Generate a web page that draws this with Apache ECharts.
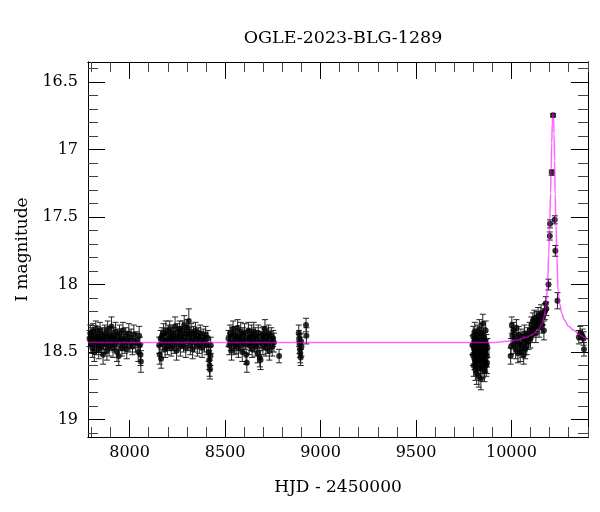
<!DOCTYPE html>
<html>
<head>
<meta charset="utf-8">
<script src="https://cdn.jsdelivr.net/npm/echarts@6/dist/echarts.min.js"></script>
<style>html,body{margin:0;padding:0;background:#fff}#c{width:600px;height:512px}</style>
</head>
<body>
<div id="c"></div>
<script>
// ---- data ----
const titleText = 'OGLE-2023-BLG-1289';
const xName = 'HJD - 2450000';
const yName = 'I magnitude';
const xMajorTicks = [8000, 8500, 9000, 9500, 10000];
const yMajorTicks = [16.5, 17, 17.5, 18, 18.5, 19];

const obsHJD = [
 7790,7794,7797,7801,7805,7808,7812,7815,7819,7823,7826,7830,7834,7838,7841,7845,7849,7853,7857,7861,7865,7869,7873,7877,7881,7885,7889,7893,7897,7901,7905,7909,7913,7917,7921,7926,7930,7934,7938,7943,7947,7951,7956,7960,7965,7970,7975,7980,7985,7990,7996,8002,8008,8015,8022,8030,8038,8045,8050,8054,8057,8059,
 8155,8158,8162,8165,8170,8174,8178,8182,8186,8190,8194,8198,8202,8206,8210,8214,8218,8222,8226,8230,8234,8238,8242,8246,8250,8254,8258,8262,8266,8270,8274,8278,8282,8286,8290,8294,8298,8302,8306,8310,8314,8318,8322,8326,8330,8335,8340,8345,8350,8355,8360,8365,8370,8375,8380,8386,8392,8398,8404,8410,8414,8417,8419,8421,8423,8425,
 8518,8522,8526,8530,8534,8538,8542,8546,8550,8554,8558,8562,8566,8570,8574,8578,8582,8586,8590,8594,8598,8602,8606,8610,8614,8618,8622,8626,8630,8634,8638,8642,8646,8650,8654,8658,8662,8666,8670,8674,8678,8682,8686,8690,8694,8698,8702,8706,8709,8714,8718,8722,8727,8732,8737,8742,8747,8752,8756,8783,
 8886,8888,8890,8892,8894,8896,8898,8900,8924,8926,
 9796,9798,9800,9802,9803,9805,9806,9808,9809,9811,9812,9814,9815,9817,9818,9820,9821,9823,9824,9826,9827,9829,9830,9832,9833,9835,9836,9838,9839,9840,9841,9842,9844,9845,9847,9848,9850,9851,9853,9854,9856,9857,9859,9860,9862,9863,9865,9866,9868,9869,9871,9872,9874,
 9996,9998,10002,10005,10010,10014,10018,10022,10026,10030,10034,10038,10042,10046,10050,10055,10060,10064,10068,10072,10076,10080,10085,10090,10095,10100,10104,10108,10112,10116,10120,10124,10128,10132,10136,10140,10145,10150,10155,10160,10165,10170,10175,10180,10183,10194,10201,10202,10211,10218,10227,10230,10241,
 10353,10360,10372,10378,10380
];
const obsMag = [
 18.40,18.36,18.44,18.38,18.47,18.35,18.42,18.50,18.39,18.33,18.45,18.41,18.37,18.48,18.43,18.34,18.40,18.46,18.38,18.52,18.42,18.36,18.44,18.39,18.49,18.33,18.41,18.46,18.37,18.43,18.31,18.40,18.47,18.38,18.44,18.35,18.42,18.50,18.39,18.53,18.36,18.43,18.40,18.47,18.34,18.42,18.45,18.38,18.48,18.41,18.36,18.44,18.40,18.46,18.37,18.43,18.41,18.50,18.38,18.45,18.52,18.57,
 18.45,18.52,18.40,18.55,18.38,18.44,18.36,18.42,18.48,18.34,18.41,18.46,18.37,18.43,18.33,18.40,18.47,18.36,18.42,18.38,18.45,18.31,18.40,18.49,18.35,18.43,18.39,18.33,18.46,18.37,18.41,18.34,18.44,18.30,18.39,18.47,18.36,18.32,18.42,18.27,18.38,18.45,18.35,18.41,18.48,18.37,18.43,18.34,18.40,18.46,18.38,18.44,18.36,18.41,18.47,18.39,18.43,18.37,18.45,18.40,18.50,18.56,18.60,18.63,18.53,18.45,
 18.40,18.45,18.36,18.43,18.49,18.38,18.33,18.42,18.46,18.37,18.44,18.40,18.32,18.47,18.39,18.43,18.35,18.41,18.50,18.38,18.44,18.36,18.42,18.52,18.58,18.40,18.34,18.45,18.39,18.43,18.37,18.48,18.41,18.35,18.44,18.38,18.46,18.40,18.51,18.36,18.43,18.54,18.56,18.41,18.38,18.45,18.37,18.42,18.33,18.47,18.39,18.44,18.36,18.49,18.41,18.38,18.46,18.40,18.43,18.53,
 18.36,18.40,18.44,18.48,18.51,18.54,18.42,18.46,18.30,18.38,
 18.45,18.52,18.38,18.60,18.47,18.42,18.55,18.35,18.50,18.63,18.44,18.57,18.40,18.48,18.66,18.53,18.37,18.45,18.59,18.42,18.51,18.68,18.46,18.33,18.56,18.49,18.41,18.62,18.44,18.70,18.54,18.36,18.50,18.58,18.43,18.47,18.29,18.61,18.52,18.39,18.55,18.46,18.64,18.42,18.50,18.57,18.34,18.48,18.60,18.44,18.53,18.58,18.47,
 18.53,18.46,18.30,18.38,18.34,18.44,18.40,18.48,18.32,18.42,18.51,18.37,18.45,18.50,18.39,18.47,18.43,18.52,18.36,18.48,18.41,18.45,18.38,18.42,18.34,18.40,18.30,18.37,18.27,18.33,18.25,18.31,18.36,18.26,18.29,18.23,18.32,18.27,18.21,18.30,18.24,18.34,18.20,18.14,18.18,18.00,17.64,17.55,17.17,16.745,17.52,17.75,18.12,
 18.39,18.36,18.38,18.40,18.48
];
const obsErr = [
 .06,.06,.07,.06,.07,.06,.06,.07,.06,.06,.07,.06,.06,.07,.06,.06,.07,.06,.06,.07,.06,.06,.07,.06,.07,.06,.06,.07,.06,.06,.07,.06,.07,.06,.06,.07,.06,.07,.06,.07,.06,.06,.07,.06,.06,.07,.06,.06,.07,.06,.07,.06,.07,.06,.07,.07,.06,.07,.07,.06,.08,.08,
 .06,.07,.06,.07,.06,.06,.07,.06,.06,.07,.06,.06,.07,.06,.06,.07,.06,.06,.07,.06,.06,.07,.06,.07,.06,.06,.07,.06,.07,.06,.06,.07,.06,.07,.06,.07,.06,.06,.07,.09,.06,.07,.06,.06,.07,.06,.07,.06,.06,.07,.06,.07,.06,.06,.07,.06,.07,.06,.07,.06,.07,.07,.08,.07,.07,.06,
 .06,.07,.06,.06,.07,.06,.06,.07,.06,.06,.07,.06,.06,.07,.06,.06,.07,.06,.07,.06,.06,.07,.06,.07,.07,.06,.06,.07,.06,.06,.07,.06,.06,.07,.06,.06,.07,.06,.07,.06,.06,.07,.07,.06,.06,.07,.06,.06,.07,.06,.06,.07,.06,.07,.06,.06,.07,.06,.07,.05,
 .06,.06,.07,.06,.07,.06,.06,.07,.05,.06,
 .07,.08,.07,.08,.07,.07,.08,.07,.07,.08,.07,.08,.07,.07,.08,.08,.07,.07,.08,.07,.07,.08,.07,.07,.08,.07,.07,.08,.07,.08,.08,.07,.07,.08,.07,.07,.07,.08,.07,.07,.08,.07,.08,.07,.07,.08,.07,.07,.08,.07,.08,.08,.07,
 .06,.06,.06,.06,.06,.07,.06,.07,.06,.06,.07,.06,.06,.07,.06,.07,.06,.07,.06,.07,.06,.07,.06,.06,.06,.07,.06,.06,.06,.06,.06,.06,.07,.06,.06,.06,.07,.06,.06,.06,.06,.07,.06,.05,.05,.04,.03,.03,.02,.012,.03,.04,.06,
 .05,.05,.05,.05,.05
];

const modelHJD = [7782,9900,9980,10031,10080,10110,10145,10160,10171,10178,10183,10189,10195,10201,10205,10208,10211,10214,10217,10220,10223,10226,10229,10233,10238,10244,10252,10263,10276,10300,10328,10355,10381,10401];
const modelMag = [18.43,18.43,18.42,18.41,18.39,18.37,18.33,18.29,18.24,18.18,18.12,18.00,17.78,17.52,17.32,17.15,16.95,16.80,16.73,16.75,16.88,17.08,17.33,17.55,17.78,18.04,18.14,18.21,18.26,18.31,18.34,18.37,18.39,18.41];

// ---- build ----
const X_MIN = 7782, X_MAX = 10401, Y_MIN = 16.35, Y_MAX = 19.13;
const xMinorTicks = [], yMinorTicks = [];
for (let v = 7800; v <= 10400; v += 100) if (xMajorTicks.indexOf(v) < 0) xMinorTicks.push(v);
for (let i = 164; i <= 191; i++) { const v = i / 10; if (yMajorTicks.indexOf(v) < 0) yMinorTicks.push(v); }

const FONT = 'DejaVu Serif';
const points = obsHJD.map((t, i) => [t, obsMag[i], obsErr[i]]);
const model = modelHJD.map((t, i) => [t, modelMag[i]]);
const plain = v => String(v);

function xAx(pos, ticks, len, withLabel) {
  return {
    type: 'value', position: pos, min: X_MIN, max: X_MAX, gridIndex: 0,
    axisLine: { show: true, onZero: false, lineStyle: { color: '#000', width: 1 } },
    axisTick: { show: true, inside: true, length: len, customValues: ticks, lineStyle: { color: len > 12 ? '#000' : '#444', width: 1 } },
    axisLabel: withLabel ? { show: true, customValues: ticks, formatter: plain, fontFamily: FONT, fontSize: 16, color: '#000', margin: 8 } : { show: false },
    splitLine: { show: false },
    name: withLabel ? xName : '', nameLocation: 'middle', nameGap: 42,
    nameTextStyle: { fontFamily: FONT, fontSize: 17, color: '#000' }
  };
}
function yAx(pos, ticks, len, withLabel) {
  return {
    type: 'value', position: pos, min: Y_MIN, max: Y_MAX, inverse: true, gridIndex: 0,
    axisLine: { show: true, onZero: false, lineStyle: { color: '#000', width: 1 } },
    axisTick: { show: true, inside: true, length: len, customValues: ticks, lineStyle: { color: len > 12 ? '#000' : '#444', width: 1 } },
    axisLabel: withLabel ? { show: true, customValues: ticks, formatter: plain, fontFamily: FONT, fontSize: 16, color: '#000', margin: 10 } : { show: false },
    splitLine: { show: false },
    name: withLabel ? yName : '', nameLocation: 'middle', nameGap: 54,
    nameTextStyle: { fontFamily: FONT, fontSize: 17, color: '#000' }
  };
}

const chart = echarts.init(document.getElementById('c'), null, { renderer: 'canvas' });
chart.setOption({
  animation: false,
  backgroundColor: '#fff',
  title: { text: titleText, left: 338, top: 24, textAlign: 'center',
    textStyle: { fontFamily: FONT, fontSize: 17.5, fontWeight: 'normal', color: '#000' } },
  grid: { left: 88, right: 12, top: 62, bottom: 75, containLabel: false, outerBoundsMode: 'none' },
  xAxis: [
    xAx('bottom', xMajorTicks, 17, true),
    xAx('bottom', xMinorTicks, 10, false),
    xAx('top', xMajorTicks, 17, false),
    xAx('top', xMinorTicks, 10, false)
  ],
  yAxis: [
    yAx('left', yMajorTicks, 17, true),
    yAx('left', yMinorTicks, 10, false),
    yAx('right', yMajorTicks, 17, false),
    yAx('right', yMinorTicks, 10, false)
  ],
  series: [
    {
      type: 'custom', xAxisIndex: 0, yAxisIndex: 0, data: points, z: 2,
      encode: { x: 0, y: 1 },
      renderItem: function (params, api) {
        const t = api.value(0), m = api.value(1), e = api.value(2);
        const a = api.coord([t, m - e]), b = api.coord([t, m + e]);
        const hw = 3, st = { stroke: '#222', lineWidth: 1 };
        return { type: 'group', children: [
          { type: 'line', shape: { x1: a[0], y1: a[1], x2: b[0], y2: b[1] }, style: st },
          { type: 'line', shape: { x1: a[0] - hw, y1: a[1], x2: a[0] + hw, y2: a[1] }, style: st },
          { type: 'line', shape: { x1: b[0] - hw, y1: b[1], x2: b[0] + hw, y2: b[1] }, style: st }
        ] };
      }
    },
    {
      type: 'scatter', xAxisIndex: 0, yAxisIndex: 0, z: 3,
      data: points.map(p => [p[0], p[1]]),
      symbol: 'circle', symbolSize: 6,
      itemStyle: { color: '#000' }
    },
    {
      type: 'line', xAxisIndex: 0, yAxisIndex: 0, z: 4,
      data: model, showSymbol: false, smooth: 0.4, smoothMonotone: 'x',
      lineStyle: { color: '#ff00ff', width: 1.5, opacity: 0.6 }
    }
  ]
});
</script>
</body>
</html>
